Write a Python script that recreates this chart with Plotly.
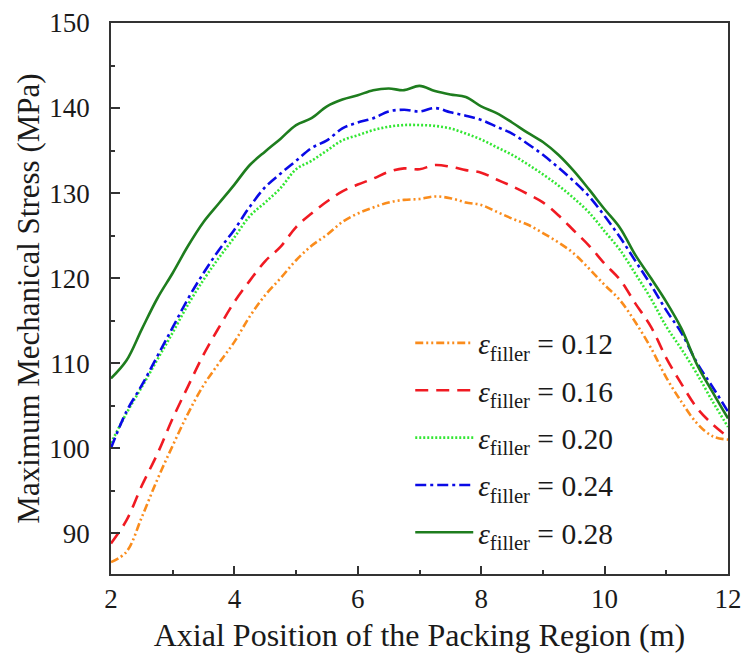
import plotly.graph_objects as go

# Axial position along the packing region (m)
position = [2.0, 2.25, 2.5, 2.75, 3.0, 3.25, 3.5, 3.75, 4.0, 4.25, 4.5, 4.75,
            5.0, 5.25, 5.5, 5.75, 6.0, 6.25, 6.5, 6.75, 7.0, 7.25, 7.5, 7.75,
            8.0, 8.25, 8.5, 8.75, 9.0, 9.25, 9.5, 9.75, 10.0, 10.25, 10.5, 10.75,
            11.0, 11.25, 11.5, 11.75, 12.0]

# Maximum mechanical stress (MPa) for each filler porosity
stress_012 = [86.6, 87.8, 91.9, 96.3, 100.3, 104.1, 107.4, 110.0, 112.5, 115.5, 118.0, 120.0,
              122.1, 123.8, 125.1, 126.6, 127.6, 128.3, 128.9, 129.2, 129.3, 129.6, 129.4, 128.9,
              128.6, 127.8, 127.0, 126.3, 125.3, 124.2, 122.9, 121.1, 119.2, 117.4, 114.8, 111.8,
              108.3, 105.4, 102.9, 101.4, 101.0]
stress_016 = [88.8, 91.5, 95.6, 99.3, 103.5, 107.3, 111.0, 114.2, 117.2, 119.7, 122.0, 123.7,
              126.0, 127.6, 129.0, 130.2, 131.0, 131.7, 132.5, 132.9, 132.8, 133.3, 133.1, 132.7,
              132.4, 131.6, 130.8, 129.9, 128.9, 127.4, 125.6, 123.8, 121.7, 119.8, 117.0, 114.3,
              110.6, 107.5, 104.7, 102.8, 101.3]
stress_020 = [100.6, 104.1, 107.2, 110.4, 113.6, 116.9, 119.8, 122.4, 124.8, 127.3, 128.9, 130.6,
              132.8, 133.8, 135.0, 136.2, 136.8, 137.4, 137.8, 138.0, 138.0, 137.9, 137.6, 137.0,
              136.3, 135.4, 134.5, 133.4, 132.2, 130.9, 129.4, 127.7, 125.5, 123.3, 120.5, 117.6,
              114.3, 111.6, 108.7, 105.5, 102.5]
stress_024 = [100.0, 104.3, 107.4, 110.8, 114.2, 117.6, 120.6, 123.3, 125.7, 128.4, 130.7, 132.3,
              133.8, 135.3, 136.2, 137.6, 138.3, 138.8, 139.6, 139.8, 139.6, 140.0, 139.5, 139.1,
              138.6, 137.8, 137.0, 135.8, 134.5, 133.0, 131.4, 129.6, 127.3, 124.8, 122.0, 119.2,
              116.2, 113.5, 110.0, 107.2, 104.3]
stress_028 = [108.2, 110.3, 114.0, 117.6, 120.6, 123.8, 126.6, 128.8, 131.0, 133.3, 134.9, 136.4,
              138.0, 138.8, 140.2, 141.0, 141.5, 142.1, 142.3, 142.1, 142.6, 142.0, 141.6, 141.3,
              140.2, 139.4, 138.3, 137.1, 136.0, 134.5, 132.6, 130.4, 128.1, 125.9, 122.7, 120.0,
              117.2, 114.0, 109.8, 106.6, 103.5]

porosity_labels = ["0.12", "0.16", "0.20", "0.24", "0.28"]
series = [stress_012, stress_016, stress_020, stress_024, stress_028]
colors = ["#fa8c1c", "#f01a22", "#33e633", "#0a0ae6", "#1e7d1e"]
dashes = ["8px,3px,2px,3px,2px,3px", "13px,8px", "2px,2px", "11px,4px,3px,4px", "solid"]

FONT = "Liberation Serif, Times New Roman, serif"
INK = "#1a1a1a"

fig = go.Figure()
for i, (lab, vals, col, dash) in enumerate(zip(porosity_labels, series, colors, dashes)):
    fig.add_trace(go.Scatter(
        x=position, y=vals, mode="lines", line_shape="spline",
        name=f"<i>ε</i><sub>filler</sub> = {lab}",
        legendgroup=f"g{i}",
        line=dict(color=col, width=2.6, dash=dash),
    ))

axis_common = dict(
    showline=True, linecolor="#333333", linewidth=1.6, mirror=True,
    ticks="inside", tickcolor="#333333", tickwidth=1.5,
    showgrid=False, zeroline=False,
    tickfont=dict(family=FONT, size=27, color=INK),
)

fig.update_xaxes(
    range=[2, 12], tickvals=[2, 4, 6, 8, 10, 12], ticklen=8,
    minor=dict(tickvals=[3, 5, 7, 9, 11], ticks="inside", ticklen=4,
               tickcolor="#333333", tickwidth=1.5),
    title=dict(text="Axial Position of the Packing Region (m)",
               font=dict(family=FONT, size=32, color=INK), standoff=10),
    **axis_common,
)
fig.update_yaxes(
    range=[85.2, 150], tickvals=[90, 100, 110, 120, 130, 140, 150], ticklen=9,
    minor=dict(tickvals=[95, 105, 115, 125, 135, 145], ticks="inside", ticklen=4,
               tickcolor="#333333", tickwidth=1.5),
    ticklabelstandoff=14,
    title=dict(text="Maximum Mechanical Stress (MPa)",
               font=dict(family=FONT, size=31, color=INK), standoff=0),
    **axis_common,
)

fig.update_layout(
    width=745, height=657,
    margin=dict(l=111, r=17, t=23, b=83, autoexpand=False),
    paper_bgcolor="white", plot_bgcolor="white",
    showlegend=True,
    legend=dict(
        x=0.485, y=0.466, xanchor="left", yanchor="top",
        bgcolor="rgba(0,0,0,0)", borderwidth=0,
        font=dict(family=FONT, size=29.5, color=INK),
        itemwidth=58, tracegroupgap=6,
    ),
)

fig.write_html("out.html")
